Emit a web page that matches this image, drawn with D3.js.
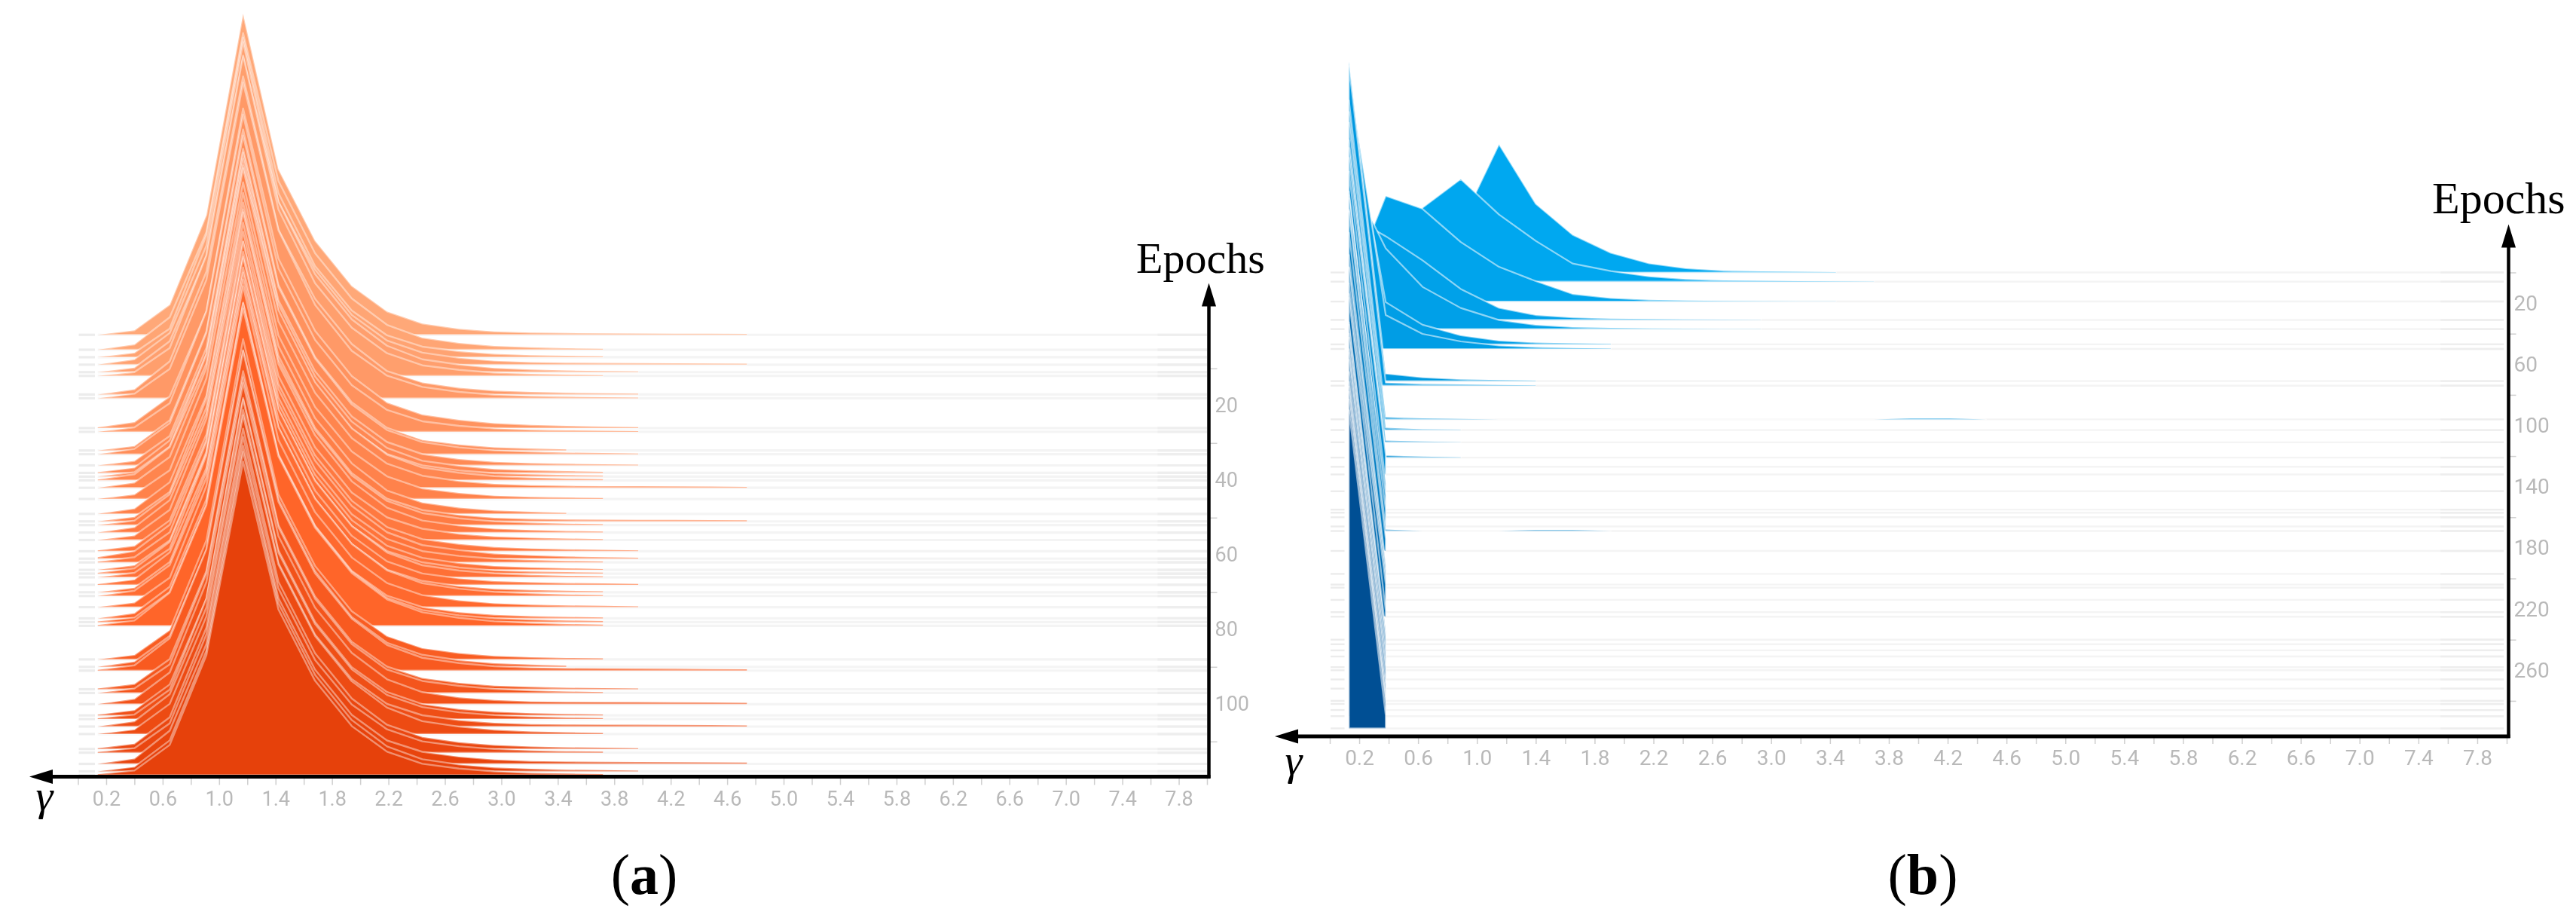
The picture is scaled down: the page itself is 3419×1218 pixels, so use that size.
<!DOCTYPE html>
<html>
<head>
<meta charset="utf-8">
<script src="https://cdn.jsdelivr.net/npm/d3@7/dist/d3.min.js"></script>
<style>
html,body{margin:0;padding:0;background:#fff;}
svg{display:block;}
.marks{filter:blur(0.7px);}
.soft{filter:blur(0.5px);}
</style>
</head>
<body>
<svg id="c" width="3419" height="1218"></svg>
<script>
// ---------- data ----------
const xTickValues = [0,0.2,0.4,0.6,0.8,1.0,1.2,1.4,1.6,1.8,2.0,2.2,2.4,2.6,2.8,3.0,3.2,3.4,3.6,3.8,4.0,4.2,4.4,4.6,4.8,5.0,5.2,5.4,5.6,5.8,6.0,6.2,6.4,6.6,6.8,7.0,7.2,7.4,7.6,7.8,8.0];
const xLabelValues = [0.2,0.6,1.0,1.4,1.8,2.2,2.6,3.0,3.4,3.8,4.2,4.6,5.0,5.4,5.8,6.2,6.6,7.0,7.4,7.8];
const yTicksA = [10,30,50,70,90,110];
const yLabelsA = [20,40,60,80,100];
const yTicksB = [0,40,80,120,160,200,240,280];
const yLabelsB = [20,60,100,140,180,220,260];

// bin centres (gamma)
const binsA = [0.14,0.40,0.65,0.91,1.17,1.42,1.68,1.94,2.19,2.44,2.70,2.95,3.21,3.46,3.72,3.97,4.23,4.48,4.74];
const binsB = [0.13,0.38,0.63,0.89,1.15,1.40,1.65,1.91,2.17,2.42,2.68,2.93,3.19,3.44,3.70,3.95,4.21,4.46,4.72];

const epochsA = [1,5,7,9,11,12,17,18,26,27,32,33,36,38,39,40,42,45,49,51,52,54,56,59,61,62,64,65,66,68,70,71,74,77,78,79,88,90,91,96,97,100,103,104,106,108,112,113,116,118,119];
const countsA = [
[0,6,40,159,426,220,125,65,31,15,8,4.5,3,2.4,2,1.8,1.6,1.5,1.3],
[0,7,43,156,420,224,128,68,33,16,9,5,3.2,2,1.2],
[0,6,38,162,424,218,121,62,29,14,8,4.4,2.8,1.9,1.1],
[0,7,42,158,428,216,126,66,32,16,9,5.2,3.4,2.6,2.3,2.1,1.9,1.7,1.4],
[0,6,41,154,418,226,130,70,35,17,10,5.6,3.4,2.2,1.6,1],
[0,5,37,160,425,221,123,64,30,14,8,4.2,2.6,1.7,1],
[0,7,44,163,422,219,127,67,31,16,9,5.2,3.4,2.4,1.8,1.1],
[0,6,39,157,419,223,124,63,30,15,8.4,4.6,3,2.1,1.5,1],
[1,8,42,155,424,225,129,69,34,18,11,6.4,4.2,3,2.1,1.3],
[0,6,38,160,421,217,122,62,29,14,8,4.4,2.8,2,1.5,1],
[0,6,40,158,426,220,124,64,30,14,8,4.2,2.6,1.4],
[0,7,41,161,423,222,127,66,32,16,9,5,3.3,2.2,1.6,1],
[0,6,39,156,420,219,125,65,31,15,8.5,4.8,3.1,2.2,1.6,1.1],
[1,7,43,158,425,224,128,68,33,16,9.4,5.2,3.4,2.4,1.5],
[0,6,40,162,422,218,123,63,30,15,8.2,4.6,3,2,1.3],
[1,8,44,155,418,226,130,69,34,17,10,5.6,3.6,2.4,1.5],
[0,7,41,159,424,221,126,66,32,16,9,5.2,3.4,2.6,2.3,2.1,1.9,1.7,1.3],
[0,6,38,160,420,217,122,63,30,14,8,4.4,2.9,2,1.2],
[0,7,42,157,426,223,127,67,31,15,8.4,4.6,2.8,1.4],
[0,6,39,163,423,220,124,64,30,15,8.6,4.8,3.2,2.6,2.3,2.1,1.9,1.7,1.5],
[0,6,41,156,419,219,126,66,32,16,9,5,3.2,2,1.2],
[0,7,43,158,425,224,129,68,33,16,9.2,5.2,3.3,2.2,1.3],
[0,6,40,161,421,218,123,63,30,15,8.2,4.8,3.1,2,1.2],
[1,7,41,155,424,222,127,67,32,16,9.6,5.6,3.7,2.6,1.8,1.1],
[2,10,45,158,420,225,130,70,35,18,11.4,6.8,4.6,3,2,1.2],
[1,7,40,160,426,219,124,64,31,15,8.6,5,3.2,2,1.2],
[0,6,39,157,422,221,126,66,32,16,9,5.2,3.3,2.2,1.2],
[1,7,42,159,418,217,123,63,30,15,8,4.4,2.8,2,1.2],
[0,6,38,162,425,223,128,68,33,16,9,5.2,3.2,2,1.3],
[1,7,43,155,421,220,125,65,31,15,8.5,4.8,3.3,2.4,1.8,1.1],
[0,6,40,160,424,219,124,64,30,15,8.2,4.6,3,2,1.2],
[0,7,41,157,420,224,129,69,34,17,9.6,5.4,3.4,2,1.3],
[0,6,39,161,426,222,126,66,32,16,9,5.2,3.3,2.4,1.8,1.1],
[0,7,42,158,419,218,123,63,30,15,8.2,4.6,3,2,1.2],
[1,6,40,156,423,221,127,67,32,16,9,5.2,3.3,2.2,1.5],
[1,7,44,160,421,225,130,70,35,18,10.6,6,3.9,2.4,1.5],
[0,6,39,158,425,219,124,64,31,15,8.4,4.6,3,2,1.3],
[0,7,41,155,420,222,127,66,32,16,8.8,4.8,3,1.6],
[1,7,43,161,424,224,129,69,34,17,10,5.8,4,3.2,2.9,2.7,2.5,2.1,1.7],
[1,7,40,157,422,218,123,63,30,15,8.5,4.8,3.2,2,1.5,1],
[0,6,38,159,419,220,125,65,31,16,9.4,5.4,3.3,2,1.2],
[0,7,42,162,426,223,128,68,33,16,9,5.5,3.6,3.1,2.9,2.7,2.5,2.2,1.7],
[1,7,41,155,421,219,124,64,31,15,8.4,4.8,3,2,1.2],
[1,6,39,160,424,221,126,66,32,16,9,5.2,3.3,2.2,1.4],
[0,7,43,158,420,217,122,63,30,15,8.5,5,3.3,2.8,2.6,2.4,2.2,2,1.5],
[0,6,40,156,423,225,130,70,35,17,9.8,5.6,3.4,2.4,1.4],
[1,7,42,161,425,222,127,67,32,16,9,5.2,3.3,2.2,1.6,1],
[1,6,39,157,419,218,123,64,31,15,8.5,4.8,3,2,1.3],
[0,7,44,159,422,220,125,65,31,16,9.6,5.8,3.8,3.1,2.7,2.5,2.3,2.1,1.7],
[0,6,41,160,424,223,128,68,33,16,9,5.2,3.3,2.2,1.6,1],
[1,6,40,159,416,220,125,65,31,15,8.6,4.8,2.9,2,1.3]
];

const epochsB = [0,6,19,31,37,47,50,71,74,96,103,111,121,127,132,143,155,157,160,166,169,182,197,204,206,214,222,225,240,243,247,251,258,260,266,272,280,282,286,290,298];
const countsB = [
[2,8,25,64,170,91,50,26,12,5.5,2.4,1.4,.9,.6],
[8,40,98,136,89,54,24,14,7,3.4,1.8,1.1,.7,.4,.3],
[18,140,123,79,46,27,10,4.6,2.2,1.2,.8,.5,.3,.2],
[139,111,79,41,16,6.4,3.2,1.8,1.1,.6,.4,.25],
[206,107,56,28,12,5.5,2.6,1.5,.9,.6,.4,.3],
[327,56,26,12,5,2.4,1.4,.7],
[363,45,20,10,4.5,2.4,1.2,.6],
[424,10,5,2.4,1.3,.6],
[424,4,2.4,1.6,.9,.4],
[423,3,1.4,.6,0,0,0,0,0,0,0,0,0,0,0,1.4,1.4,0],
[422,3,1.2,.5],
[424,2.4,1,.3],
[421,3,1.4,.5],
[423,18],
[420,26],
[424,10],
[422,7],
[421,14],
[423,30],
[420,22],
[424,2,0,0,0,1.6,1.6,0],
[422,16],
[423,12],
[421,9],
[424,24],
[420,31],
[422,37],
[423,8],
[421,11],
[424,6],
[420,15],
[423,9],
[422,13],
[421,5],
[424,10],
[420,7],
[423,14],
[421,8],
[422,12],
[420,16],
[422,17]
];

// ---------- layout ----------
const svg = d3.select('#c');
const FONT = 'Roboto, "Open Sans", sans-serif';
const SERIF = '"Liberation Serif", "DejaVu Serif", serif';

function panel(o){
  const x = d3.scaleLinear().domain([0,8]).range(o.xRange);
  const y = d3.scaleLinear().domain(o.eDomain).range(o.yRange);
  const h = d3.scaleLinear().domain([0,424]).range([0,424]);
  const color = d3.scaleLinear().domain(o.colorDomain).range(o.colorRange);
  const g = svg.append('g');

  // baselines
  const base = g.append('g').attr('class','soft');
  base.selectAll('line.main').data(o.epochs).join('line').attr('class','main')
    .attr('x1',x(o.bins[0])).attr('x2',x(o.xLineEnd)).attr('y1',d=>y(d)).attr('y2',d=>y(d))
    .attr('stroke','#f4f4f4').attr('stroke-width',o.lineWidth);
  base.selectAll('line.l').data(o.epochs).join('line').attr('class','l')
    .attr('x1',x(0)+1).attr('x2',x(o.leftEnd)).attr('y1',d=>y(d)).attr('y2',d=>y(d))
    .attr('stroke','#ececec').attr('stroke-width',o.lineWidth);
  base.selectAll('line.r').data(o.epochs).join('line').attr('class','r')
    .attr('x1',x(o.rightStart)).attr('x2',x(o.xLineEnd)).attr('y1',d=>y(d)).attr('y2',d=>y(d))
    .attr('stroke','#eeeeee').attr('stroke-width',o.lineWidth);

  // histograms, back to front
  const marks = g.append('g').attr('class','marks');
  const series = o.epochs.map((e,i)=>({e,v:o.counts[i]}));
  marks.selectAll('path').data(series).join('path')
    .attr('d',s=>d3.area()
        .x((d,k)=>x(o.bins[k]))
        .y0(y(s.e))
        .y1(d=>y(s.e)-h(d))(s.v)+'Z')
    .attr('fill',s=>color(s.e))
    .attr('stroke','#fff').attr('stroke-opacity',o.strokeOpacity).attr('stroke-width',o.strokeWidth)
    .attr('stroke-linejoin','round');

  // x axis
  const xa = g.append('g').attr('transform',`translate(0,${o.axisY})`)
    .call(d3.axisBottom(x).tickValues(xTickValues).tickSize(o.tickLen).tickPadding(o.xPad)
      .tickFormat(v=>xLabelValues.some(l=>Math.abs(l-v)<1e-6)?d3.format('.1f')(v):''));
  xa.select('.domain').remove();
  xa.selectAll('line').attr('stroke','#cfcfcf').attr('stroke-width',1.5);
  xa.selectAll('text').attr('fill','#b9b9b9').attr('font-family',FONT).attr('font-size',o.fontSize).attr('class','soft');

  // y axis
  const ya = g.append('g').attr('transform',`translate(${o.axisX},0)`)
    .call(d3.axisRight(y).tickValues(o.yTicks).tickSize(o.tickLen).tickFormat(''));
  ya.select('.domain').remove();
  ya.selectAll('line').attr('stroke','#cfcfcf').attr('stroke-width',1.5);
  const yl = g.append('g').attr('transform',`translate(${o.axisX},0)`)
    .call(d3.axisRight(y).tickValues(o.yLabels).tickSize(0).tickPadding(o.yPad));
  yl.select('.domain').remove();
  yl.selectAll('text').attr('fill','#b9b9b9').attr('font-family',FONT).attr('font-size',o.fontSize).attr('class','soft');

  // arrows
  g.append('line').attr('x1',o.arrowLeft+20).attr('x2',o.axisX+2).attr('y1',o.axisY).attr('y2',o.axisY)
    .attr('stroke','#000').attr('stroke-width',5);
  g.append('line').attr('x1',o.axisX).attr('x2',o.axisX).attr('y1',o.axisY+2).attr('y2',o.arrowTop+20)
    .attr('stroke','#000').attr('stroke-width',4.5);
  g.append('path').attr('fill','#000')
    .attr('d',d3.line()([[o.arrowLeft,o.axisY],[o.arrowLeft+31,o.axisY-9.5],[o.arrowLeft+31,o.axisY+9.5]])+'Z');
  g.append('path').attr('fill','#000')
    .attr('d',d3.line()([[o.axisX,o.arrowTop],[o.axisX-9.5,o.arrowTop+31],[o.axisX+9.5,o.arrowTop+31]])+'Z');

  // labels
  g.append('text').text('Epochs').attr('x',o.epochsX).attr('y',o.epochsY)
    .attr('font-family',SERIF).attr('font-size',o.epochsSize).attr('fill','#000');
  g.append('text').text('γ').attr('x',o.gammaX).attr('y',o.gammaY).attr('text-anchor','middle')
    .attr('font-family',SERIF).attr('font-style','italic').attr('font-size',58).attr('fill','#000');
  const cap = g.append('text').attr('x',o.capX).attr('y',1186).attr('text-anchor','middle')
    .attr('font-family',SERIF).attr('font-size',76).attr('fill','#000');
  cap.append('tspan').text('(');
  cap.append('tspan').text(o.cap).attr('font-weight','bold');
  cap.append('tspan').text(')');
}

panel({
  xRange:[103.5,1602], eDomain:[0,120], yRange:[439.3,1033.3],
  colorDomain:[1,79,119], colorRange:['#ffa878','#ff6529','#e6410b'],
  epochs:epochsA, counts:countsA, bins:binsA,
  xLineEnd:8, leftEnd:0.12, rightStart:7.65, lineWidth:3.2,
  strokeOpacity:.42, strokeWidth:2.4,
  axisY:1030.5, axisX:1604.5, tickLen:11, xPad:8, yPad:8, fontSize:27,
  yTicks:yTicksA, yLabels:yLabelsA,
  arrowLeft:39, arrowTop:375.5,
  epochsX:1508, epochsY:362, epochsSize:58,
  gammaX:59, gammaY:1075, capX:855, cap:'a'
});
panel({
  xRange:[1765,3327], eDomain:[0,300], yRange:[361.5,970.5],
  colorDomain:[0,150,298], colorRange:['#00a8f0','#0088cf','#004f94'],
  epochs:epochsB, counts:countsB, bins:binsB,
  xLineEnd:7.98, leftEnd:0.1, rightStart:7.55, lineWidth:2.4,
  strokeOpacity:.55, strokeWidth:2.2,
  axisY:977, axisX:3329.5, tickLen:10, xPad:8, yPad:7, fontSize:28,
  yTicks:yTicksB, yLabels:yLabelsB,
  arrowLeft:1692, arrowTop:297.5,
  epochsX:3228, epochsY:283, epochsSize:60,
  gammaX:1717, gammaY:1028, capX:2552, cap:'b'
});
</script>
</body>
</html>
